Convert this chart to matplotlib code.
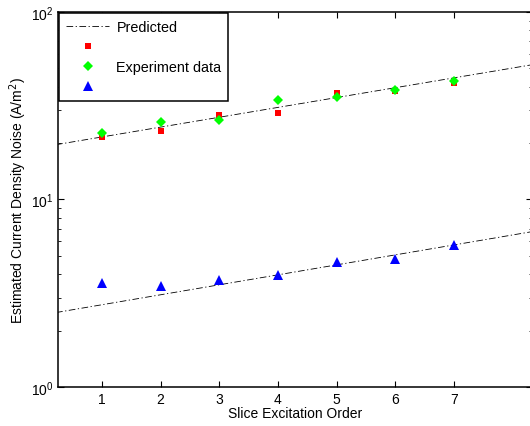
import matplotlib.pyplot as plt
from matplotlib.lines import Line2D

plt.rcParams['font.family'] = ['Liberation Sans', 'DejaVu Sans']

# slice excitation order
order = [1, 2, 3, 4, 5, 6, 7]

# measured noise, two upper series and the lower one
red_data = [21.5, 23.2, 28.2, 28.9, 37.0, 37.9, 41.8]
green_data = [22.6, 25.9, 26.5, 33.9, 35.2, 38.4, 42.9]
blue_data = [3.59, 3.46, 3.72, 3.96, 4.64, 4.82, 5.72]

# predicted lines (read at the ends of the axis range)
pred_x = [0, 9]
pred_upper = [19.1, 56.7]
pred_lower = [2.43, 7.31]

fig = plt.figure(figsize=(5.3, 4.27), dpi=100)
ax = fig.add_axes([0.1094, 0.0913, 0.894, 0.8783])

dashdot = (0, (8, 3, 1.5, 3))
ax.plot(pred_x, pred_upper, color='black', linestyle=dashdot, linewidth=0.6)
ax.plot(pred_x, pred_lower, color='black', linestyle=dashdot, linewidth=0.6)
ax.plot(order, red_data, 's', color='red', markersize=4.5, markeredgewidth=0)
ax.plot(order, green_data, 'D', color='#00ff00', markersize=5.5, markeredgewidth=0)
ax.plot(order, blue_data, '^', color='blue', markersize=7, markeredgewidth=0)

ax.set_yscale('log')
ax.set_ylim(1, 100)
ax.set_xlim(0.25, 8.33)
ax.set_xticks(order)
ax.tick_params(which='both', direction='in', top=True, right=True, labelsize=10)
ax.tick_params(which='major', length=4)
ax.tick_params(which='minor', length=2)
for s in ax.spines.values():
    s.set_linewidth(1.1)

ax.set_xlabel('Slice Excitation Order', fontsize=10, labelpad=0)
ax.set_ylabel('Estimated Current Density Noise (A/m$^2$)', fontsize=10, labelpad=1)

handles = [
    Line2D([], [], color='black', linestyle=dashdot, linewidth=0.6),
    Line2D([], [], marker='s', color='red', linestyle='none', markersize=4.5, markeredgewidth=0),
    Line2D([], [], marker='D', color='#00ff00', linestyle='none', markersize=5.5, markeredgewidth=0),
    Line2D([], [], marker='^', color='blue', linestyle='none', markersize=7, markeredgewidth=0),
]
labels = ['Predicted', ' ', 'Experiment data', ' ']
leg = ax.legend(handles, labels, loc='upper left', fontsize=10.4, frameon=True,
                fancybox=False, framealpha=1, edgecolor='black', borderaxespad=0.1,
                handlelength=3.0, handletextpad=0.5, labelspacing=0.42, borderpad=0.45)
leg.get_frame().set_linewidth(1.1)

fig.savefig('out.png', dpi=100)
